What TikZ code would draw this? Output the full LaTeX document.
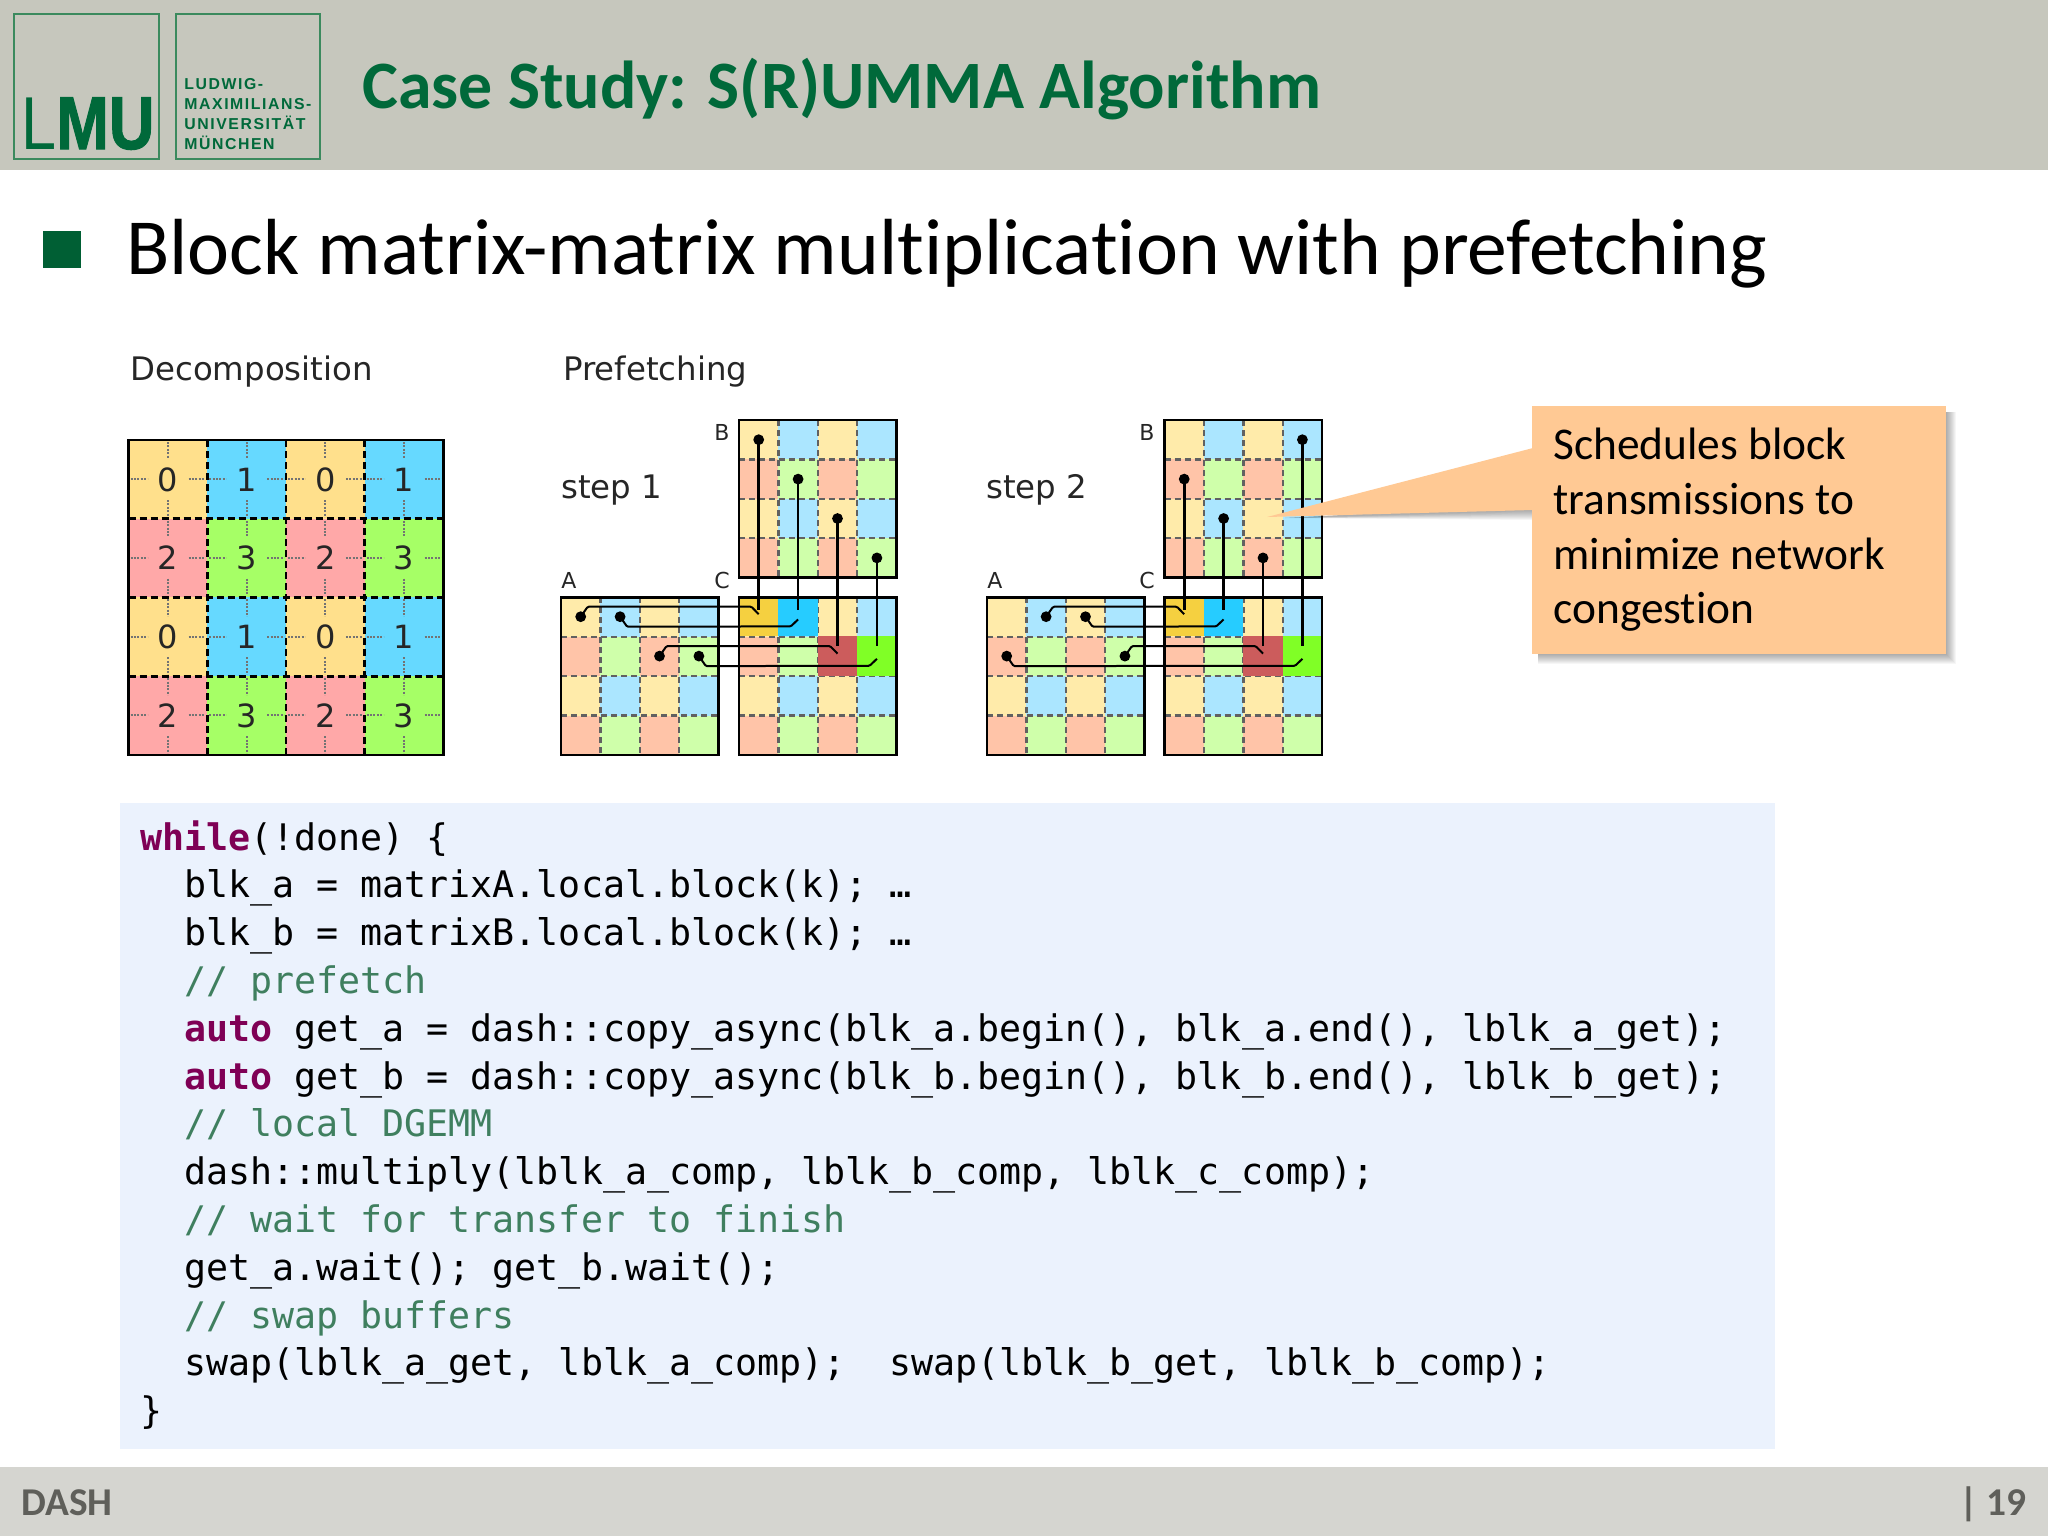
\documentclass[tikz,border=0pt]{standalone}
\usepackage{fontspec}
\setmainfont[Ligatures=NoCommon]{Carlito}
\newfontfamily\vera{DejaVu Sans}
\newfontfamily\codef{DejaVu Sans Mono}
\newfontfamily\logof{Liberation Sans}
\newfontfamily\logoheavy[FakeBold=1.5]{Liberation Sans Bold}
\newfontfamily\logospaced[LetterSpace=10]{Liberation Sans}
\usetikzlibrary{calc}
\definecolor{headbg}{HTML}{C6C7BD}
\definecolor{footbg}{HTML}{D5D5D0}
\definecolor{foottxt}{HTML}{5F5F5A}
\definecolor{lmugreen}{HTML}{00693A}
\definecolor{logoline}{HTML}{3B8A5E}
\definecolor{codebg}{HTML}{EBF2FD}
\definecolor{kwcol}{HTML}{7F0055}
\definecolor{cmtcol}{HTML}{3F7F5F}
\definecolor{callbg}{HTML}{FFC994}
\definecolor{dk0}{HTML}{FFE08C}
\definecolor{dk1}{HTML}{66D9FF}
\definecolor{dk2}{HTML}{FFA8A8}
\definecolor{dk3}{HTML}{A6FF66}
\definecolor{lt0}{HTML}{FFEBAA}
\definecolor{lt1}{HTML}{ABE6FF}
\definecolor{lt2}{HTML}{FFC4A8}
\definecolor{lt3}{HTML}{CFFFAA}
\definecolor{hgold}{HTML}{F5D040}
\definecolor{hcyan}{HTML}{26CCFF}
\definecolor{hred}{HTML}{CC5C5C}
\definecolor{hgreen}{HTML}{80FF26}
\tikzset{
  x=0.5pt,y=-0.5pt,
  gridborder/.style={draw=black,line width=1.3pt},
  griddash/.style={draw=black!62,line width=1.2pt,dash pattern=on 3pt off 2pt},
  dkdash/.style={draw=black,line width=1.4pt,dash pattern=on 3.5pt off 2pt},
  dkdot/.style={draw=black!55,line width=1pt,dash pattern=on 1pt off 0.7pt},
  wire/.style={draw=black,line width=1pt,rounded corners=0.6pt},
  vwire/.style={draw=black,line width=1.3pt},
  wdot/.style={circle,fill=black,inner sep=0pt,minimum size=5.4pt},
  veralab/.style={text=black!85,inner sep=0pt,font=\vera\fontsize{16.2}{18}\selectfont},
  letterlab/.style={text=black!85,inner sep=0pt,font=\vera\fontsize{11}{13}\selectfont},
  numlab/.style={text=black!85,inner sep=0pt,font=\vera\fontsize{16}{18}\selectfont},
  codeline/.style={anchor=base west,inner sep=0pt,font=\codef\fontsize{18.3}{20}\selectfont},
  logotext/.style={anchor=base west,inner sep=0pt,text=lmugreen,font=\logospaced\bfseries\fontsize{7.9}{9}\selectfont},
  calltext/.style={anchor=base west,inner sep=0pt,font=\fontsize{22.7}{25}\selectfont},
}
\newcommand\lightgrid[3]{% x, y, highlight?
  \foreach \r in {0,...,3}\foreach \c in {0,...,3}{
    \pgfmathtruncatemacro\k{mod(\r,2)*2+mod(\c,2)}
    \fill[lt\k] (#1+\c*39.4,#2+\r*39.4) rectangle +(39.4,39.4);}
  \foreach \i in {1,2,3}{
    \draw[griddash] (#1+\i*39.4,#2) -- +(0,157.6);
    \draw[griddash] (#1,#2+\i*39.4) -- +(157.6,0);}
  #3
  \draw[gridborder] (#1,#2) rectangle +(157.6,157.6);
}
\newcommand\hcells[1]{%
  \fill[hgold] (#1,597) rectangle +(39.4,39.4);
  \fill[hcyan] (#1+39.4,597) rectangle +(39.4,39.4);
  \fill[hred] (#1+78.8,636.4) rectangle +(39.4,39.4);
  \fill[hgreen] (#1+118.2,636.4) rectangle +(39.4,39.4);
}
% name, A x, row, col, C x, C row, C col
\newcommand\busup[7]{%
  \node[wdot] (#1) at (#2+39.4*#4+19.7,597+39.4*#3+19.7) {};
  \coordinate (#1e) at (#5+39.4*#7+19.7,597+39.4*#6+17.2);
  \draw[wire] (#1.center) -- ++(7,-10) -- ($(#1e)+(-7.3,-7.5)$) -- (#1e);
}
\newcommand\busdown[7]{%
  \node[wdot] (#1) at (#2+39.4*#4+19.7,597+39.4*#3+19.7) {};
  \coordinate (#1e) at (#5+39.4*#7+19.7,597+39.4*#6+22.4);
  \draw[wire] (#1.center) -- ++(7,10) -- ($(#1e)+(-7.3,7)$) -- (#1e);
}
% name, B x, row, col, C row, offset
\newcommand\bvert[6]{%
  \node[wdot] (#1) at (#2+39.4*#4+19.7,420+39.4*#3+19.7) {};
  \coordinate (#1e) at (#2+39.4*#4+19.7,597+39.4*#5+19.7-#6);
  \draw[vwire] (#1.center) -- (#1e);
}
\begin{document}
\begin{tikzpicture}
\useasboundingbox (0,0) rectangle (2048,1536);
\fill[white] (0,0) rectangle (2048,1536);
% header
\fill[headbg] (0,0) rectangle (2048,170);
\draw[logoline,line width=1pt] (14,14) rectangle (159,159);
\draw[logoline,line width=1pt] (176,14) rectangle (320,159);
\node[anchor=base west,inner sep=0pt,text=lmugreen] (lmu) at (21,149)
  {\scalebox{0.84}[1]{\fontsize{37.5}{38}\selectfont\logof L\logoheavy MU}};
\node[logotext] (u1) at (184,90) {LUDWIG-};
\node[logotext] (u2) at (184,110) {MAXIMILIANS-};
\node[logotext] (u3) at (184,129) {UNIVERSITÄT};
\node[logotext] (u4) at (184,149) {MÜNCHEN};
\node[anchor=base west,inner sep=0pt,text=lmugreen,font=\bfseries\fontsize{33.9}{38}\selectfont] (title) at (362,109) {Case Study: S(R)UMMA Algorithm};
% bullet
\fill[lmugreen!90!black] (43,231) rectangle (81,268);
\node[anchor=base west,inner sep=0pt,font=\fontsize{39.8}{44}\selectfont] (sub) at (126,274) {Block matrix-matrix multiplication with prefetching};
% decomposition
\node[veralab,anchor=base west] (dechead) at (130,380) {Decomposition};
\node[veralab,anchor=base west] (prehead) at (563,380) {Prefetching};
\def\dx{128.5}\def\dy{440}\def\ds{78.7}
\foreach \r in {0,...,3}\foreach \c in {0,...,3}{
  \pgfmathtruncatemacro\k{mod(\r,2)*2+mod(\c,2)}
  \fill[dk\k] (\dx+\c*\ds,\dy+\r*\ds) rectangle +(\ds,\ds);
  \draw[dkdot] (\dx+\c*\ds+2,\dy+\r*\ds+39.35) -- +(17,0);
  \draw[dkdot] (\dx+\c*\ds+60,\dy+\r*\ds+39.35) -- +(17,0);
  \draw[dkdot] (\dx+\c*\ds+39.35,\dy+\r*\ds+2) -- +(0,17);
  \draw[dkdot] (\dx+\c*\ds+39.35,\dy+\r*\ds+60) -- +(0,17);
  \node[numlab] (d\r\c) at (\dx+\c*\ds+39.35,\dy+\r*\ds+39.35) {\k};
}
\foreach \i in {1,2,3}{
  \draw[dkdash] (\dx+\i*\ds,\dy) -- +(0,314.8);
  \draw[dkdash] (\dx,\dy+\i*\ds) -- +(314.8,0);
}
\draw[gridborder] (\dx,\dy) rectangle +(314.8,314.8);
% step 1
\node[veralab,anchor=base west] (s1) at (561,498) {step 1};
\node[letterlab] (a1) at (569,580) {A};
\node[letterlab] (b1) at (722,432) {B};
\node[letterlab] (c1) at (722,580) {C};
\lightgrid{561}{597.4}{}
\lightgrid{739}{420}{}
\lightgrid{739}{597.4}{\hcells{739}}
\bvert{p1}{739}{0}{0}{0}{7}
\bvert{p2}{739}{1}{1}{0}{7}
\bvert{p3}{739}{2}{2}{1}{10}
\bvert{p4}{739}{3}{3}{1}{10}
\busup{q1}{561}{0}{0}{739}{0}{0}
\busdown{q2}{561}{0}{1}{739}{0}{1}
\busup{q3}{561}{1}{2}{739}{1}{2}
\busdown{q4}{561}{1}{3}{739}{1}{3}
% step 2
\node[veralab,anchor=base west] (s2) at (986,498) {step 2};
\node[letterlab] (a2) at (995,580) {A};
\node[letterlab] (b2) at (1147,432) {B};
\node[letterlab] (c2) at (1147,580) {C};
\lightgrid{987}{597.4}{}
\lightgrid{1164.5}{420}{}
\lightgrid{1164.5}{597.4}{\hcells{1164.5}}
\bvert{r1}{1164.5}{1}{0}{0}{7}
\bvert{r2}{1164.5}{2}{1}{0}{7}
\bvert{r3}{1164.5}{3}{2}{1}{10}
\bvert{r4}{1164.5}{0}{3}{1}{10}
\busup{t1}{987}{0}{1}{1164.5}{0}{0}
\busdown{t2}{987}{0}{2}{1164.5}{0}{1}
\busup{t3}{987}{1}{3}{1164.5}{1}{2}
\busdown{t4}{987}{1}{0}{1164.5}{1}{3}
% callout
\foreach \o in {1,...,10}{
  \fill[black,opacity=0.035] (1538,412) rectangle (1946+\o,654+\o);
  \fill[black,opacity=0.035] (1532,510+\o) -- (1532,505) -- (1285,518) -- cycle;
}
\fill[callbg] (1532,406) rectangle (1946,654);
\fill[callbg] (1533,448) -- (1267,517) -- (1533,510) -- cycle;
\node[calltext] (k1) at (1553,459.5) {Schedules block};
\node[calltext] (k2) at (1553,514.5) {transmissions to};
\node[calltext] (k3) at (1553,569) {minimize network};
\node[calltext] (k4) at (1553,623.5) {congestion};
% code
\fill[codebg] (120,803) rectangle (1775,1449);
\def\cx{140}\def\ci{44}
\node[codeline] (l0) at (\cx,850) {\textcolor{kwcol}{\bfseries while}(!done) \{};
\node[codeline] (l1) at (\cx+\ci,897.8) {blk\_a = matrixA.local.block(k); …};
\node[codeline] (l2) at (\cx+\ci,945.6) {blk\_b = matrixB.local.block(k); …};
\node[codeline,text=cmtcol] (l3) at (\cx+\ci,993.4) {// prefetch};
\node[codeline] (l4) at (\cx+\ci,1041.2) {\textcolor{kwcol}{\bfseries auto} get\_a = dash::copy\_async(blk\_a.begin(), blk\_a.end(), lblk\_a\_get);};
\node[codeline] (l5) at (\cx+\ci,1089) {\textcolor{kwcol}{\bfseries auto} get\_b = dash::copy\_async(blk\_b.begin(), blk\_b.end(), lblk\_b\_get);};
\node[codeline,text=cmtcol] (l6) at (\cx+\ci,1136.8) {// local DGEMM};
\node[codeline] (l7) at (\cx+\ci,1184.6) {dash::multiply(lblk\_a\_comp, lblk\_b\_comp, lblk\_c\_comp);};
\node[codeline,text=cmtcol] (l8) at (\cx+\ci,1232.4) {// wait for transfer to finish};
\node[codeline] (l9) at (\cx+\ci,1280.2) {get\_a.wait(); get\_b.wait();};
\node[codeline,text=cmtcol] (l10) at (\cx+\ci,1328) {// swap buffers};
\node[codeline] (l11) at (\cx+\ci,1375.8) {swap(lblk\_a\_get, lblk\_a\_comp);\ \ swap(lblk\_b\_get, lblk\_b\_comp);};
\node[codeline] (l12) at (\cx,1423.6) {\}};
% footer
\fill[footbg] (0,1467) rectangle (2048,1536);
\node[anchor=base west,inner sep=0pt,text=foottxt,font=\bfseries\fontsize{19.7}{22}\selectfont] (dash) at (21,1515) {DASH};
\node[anchor=base east,inner sep=0pt,text=foottxt,font=\bfseries\fontsize{19.7}{22}\selectfont] (pg) at (2027,1515) {| 19};
\end{tikzpicture}
\end{document}
